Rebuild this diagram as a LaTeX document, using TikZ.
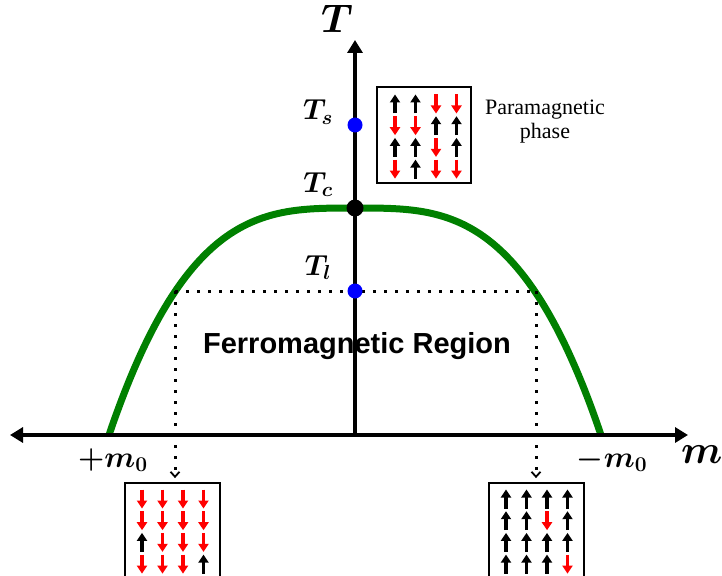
\documentclass[tikz,border=0pt]{standalone}
\usepackage{fix-cm}
\usepackage{fontspec}
\usepackage{amsmath,bm}
\setmainfont{Liberation Serif}
\newfontfamily\helvb{Liberation Sans}
\usetikzlibrary{arrows.meta}
\definecolor{curvegreen}{RGB}{0,128,0}
\definecolor{spinred}{RGB}{255,0,0}
\definecolor{dotblue}{RGB}{0,0,255}
\newcommand\spingrid[3]{%
  \foreach \s [count=\i from 0] in {#3} {%
    \pgfmathsetmacro\cx{#1+20.5*mod(\i,4)}%
    \pgfmathsetmacro\cy{#2+21.7*floor(\i/4)}%
    \if\s U\relax
      \draw[upspin] (\cx,\cy+9.5) -- (\cx,\cy-9.5);
    \else
      \draw[downspin] (\cx,\cy-9.5) -- (\cx,\cy+9.5);
    \fi
  }%
}
\begin{document}
\begin{tikzpicture}[x=1pt,y=-1pt,
  axis/.style={line width=3.5pt},
  dotline/.style={line width=3pt, dash pattern=on 3pt off 8pt},
  dotarrow/.style={dotline, -{Straight Barb[length=5pt,width=9pt,line width=1.8pt]}},
  spinbox/.style={draw, line width=1.8pt, inner sep=0pt},
  upspin/.style={line width=3.4pt, -{Triangle[length=8pt,width=10pt]}},
  downspin/.style={upspin, spinred},
  bigmath/.style={font=\fontsize{40}{40}\selectfont, inner sep=0pt, anchor=base},
  midmath/.style={font=\fontsize{29}{29}\selectfont, inner sep=0pt, anchor=base},
  pmmath/.style={font=\fontsize{30}{30}\selectfont, inner sep=0pt, anchor=base},
  phasedot/.style={circle, inner sep=0pt, minimum size=15pt}
]
\clip (0,0) rectangle (722,575);
\useasboundingbox (0,0) rectangle (722,575);

% curve
\draw[curvegreen, line width=7pt, line cap=butt]
  plot[domain=-1:1, samples=120, smooth] ({355+246*\x}, {208+227*(abs(\x)+0.0001)^3.2});

% coordinates
\coordinate (O) at (355,435);
\coordinate (xl) at (10,435);
\coordinate (xr) at (688,435);
\coordinate (yt) at (355,40);
\coordinate (pl) at (175,291);
\coordinate (pr) at (536,291);

% ferromagnetic label (under the axis)
\node[font=\helvb\bfseries\fontsize{29}{29}\selectfont] (ferro) at (357,346) {Ferromagnetic Region};

% axes
\draw[axis, {Triangle[length=13pt,width=15pt]}-{Triangle[length=13pt,width=15pt]}] (xl) -- (xr);
\draw[axis, -{Triangle[length=13pt,width=15pt]}] (O) -- (yt);

% boxes
\node[spinbox, minimum width=94pt, minimum height=96pt] (para) at (424,135) {};
\node[spinbox, minimum width=95pt, minimum height=120pt] (lbox) at (172.5,543) {};
\node[spinbox, minimum width=95pt, minimum height=120pt] (rbox) at (536.5,543) {};

\spingrid{395}{104}{U,U,D,D, D,D,U,U, U,U,D,U, D,U,D,D}
\spingrid{142}{499}{D,D,D,D, D,D,D,D, U,D,D,D, D,D,D,U}
\spingrid{506}{499}{U,U,U,U, U,U,D,U, U,U,U,U, U,U,U,D}

% dotted lines
\draw[dotline] (pl) -- (pr);
\draw[dotarrow, shorten >=4pt] (pl) -- (lbox.north -| pl);
\draw[dotarrow, shorten >=4pt] (pr) -- (rbox.north -| pr);

% dots
\node[phasedot, fill=dotblue] (Ts) at (355,125) {};
\node[phasedot, fill=black, minimum size=17pt] (Tc) at (355,208) {};
\node[phasedot, fill=dotblue] (Tl) at (355,291) {};

% labels
\node[bigmath] (Tlab) at (337,33) {$\bm{T}$};
\node[bigmath, anchor=base west] (mlab) at (681,463) {$\bm{m}$};
\node[midmath] (Tslab) at (318,120) {$\bm{T_s}$};
\node[midmath] (Tclab) at (318,192) {$\bm{T_c}$};
\node[midmath] (Tllab) at (318,275) {$\bm{T_l}$};
\node[pmmath] (pm0) at (113,467) {$\bm{+m_0}$};
\node[pmmath] (mm0) at (612,467) {$\bm{-m_0}$};
\node[font=\fontsize{22}{24}\selectfont, align=center] (paratxt) at (545,122) {Paramagnetic\\phase};
\end{tikzpicture}
\end{document}
